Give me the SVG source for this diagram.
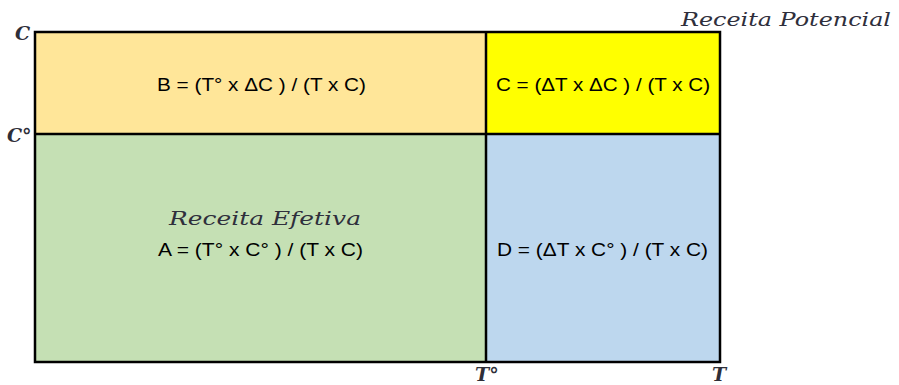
<svg xmlns="http://www.w3.org/2000/svg" width="899" height="385" viewBox="0 0 899 385">
<style>
.f{font-family:"Liberation Sans",Arial,sans-serif;font-size:19px;fill:#000}
.i{font-family:"DejaVu Serif","Liberation Serif",serif;font-style:italic;font-size:18px;fill:#2f2f3c}
.ax{font-family:"DejaVu Serif","Liberation Serif",serif;font-style:italic;font-weight:bold;font-size:19px;fill:#2e2e38}
.c{stroke:#000;stroke-width:2.5}
</style>
<rect width="899" height="385" fill="#fff"/>
<g id="B"><rect x="35" y="32" width="451" height="102" fill="#FFE699"/><text class="f" x="157" y="91" textLength="209" lengthAdjust="spacingAndGlyphs">B = (T° x ΔC ) / (T x C)</text></g>
<g id="C"><rect x="486" y="32" width="234" height="102" fill="#FFFF00"/><text class="f" x="496" y="91" textLength="214" lengthAdjust="spacingAndGlyphs">C = (ΔT x ΔC ) / (T x C)</text></g>
<g id="A"><rect x="35" y="134" width="451" height="228" fill="#C5E0B4"/><text class="i" x="169" y="225" textLength="192" lengthAdjust="spacingAndGlyphs">Receita Efetiva</text><text class="f" x="158" y="256" textLength="205" lengthAdjust="spacingAndGlyphs">A = (T° x C° ) / (T x C)</text></g>
<g id="D"><rect x="486" y="134" width="234" height="228" fill="#BDD7EE"/><text class="f" x="497" y="256" textLength="211" lengthAdjust="spacingAndGlyphs">D = (ΔT x C° ) / (T x C)</text></g>
<g id="connectors" fill="none">
<rect class="c" x="35" y="32" width="685" height="330"/>
<line class="c" x1="486" y1="32" x2="486" y2="362"/>
<line class="c" x1="35" y1="134" x2="720" y2="134"/>
</g>
<g id="labels">
<text class="i" x="681" y="26" textLength="210" lengthAdjust="spacingAndGlyphs">Receita Potencial</text>
<text class="ax" x="15" y="40">C</text>
<text class="ax" x="7" y="142">C°</text>
<text class="ax" x="475" y="381">T°</text>
<text class="ax" x="712" y="381">T</text>
</g>
</svg>
